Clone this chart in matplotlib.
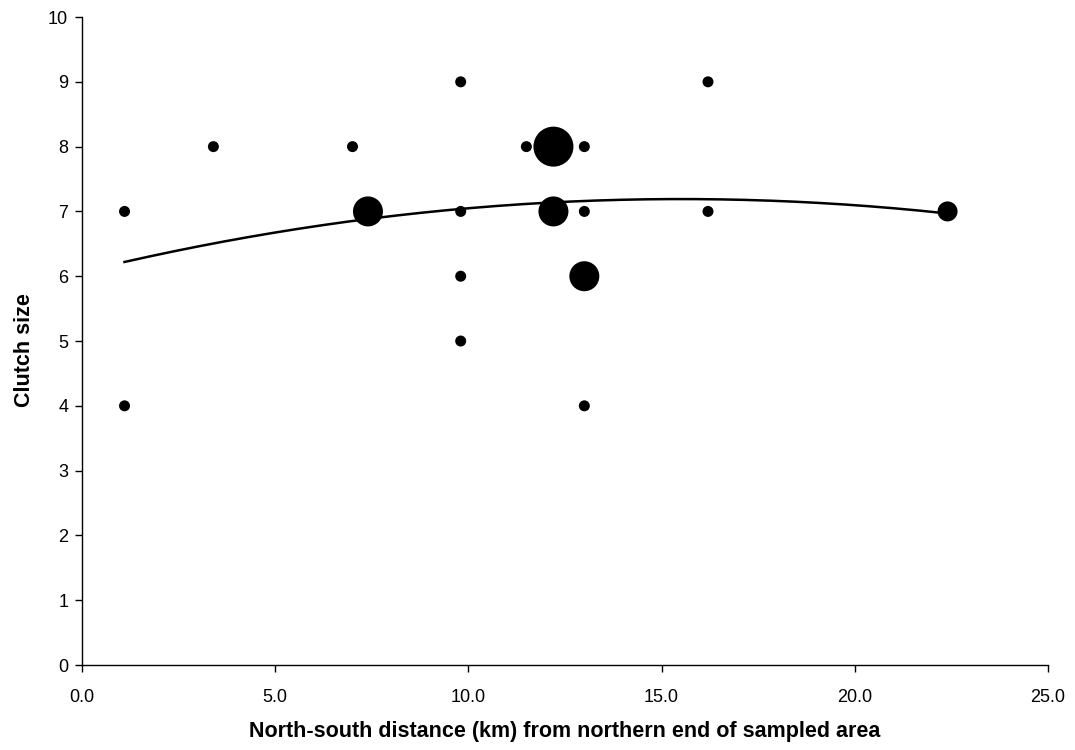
import numpy as np
import matplotlib
matplotlib.use("Agg")
import matplotlib.pyplot as plt

plt.rcParams['font.family'] = ['Liberation Sans', 'DejaVu Sans']

# distance (km) and clutch size for each nest group, with number of nests
distance = [1.1, 1.1, 3.4, 7.0, 7.4, 9.8, 9.8, 9.8, 9.8, 11.5, 12.2, 12.2,
            13.0, 13.0, 13.0, 13.0, 16.2, 16.2, 22.4]
clutch = [7, 4, 8, 8, 7, 9, 7, 6, 5, 8, 8, 7, 8, 7, 6, 4, 9, 7, 7]
n_nests = [1, 1, 1, 1, 3, 1, 1, 1, 1, 1, 4, 3, 1, 1, 3, 1, 1, 1, 2]

# polynomial trendline (order 2): y = c0 + c1*x + c2*x^2
trend_coef = [6.066, 0.1451, -0.00468]

x_ticks = [0, 5, 10, 15, 20, 25]
y_ticks = list(range(0, 11))

diam_px = {1: 11, 2: 20, 3: 30, 4: 40}
sizes = [(diam_px[n] * 0.72) ** 2 for n in n_nests]

fig = plt.figure(figsize=(10.75, 7.5), dpi=100)
ax = fig.add_axes([0.0763, 0.1133, 0.8986, 0.864])

xs = np.linspace(min(distance), max(distance), 200)
ys = trend_coef[0] + trend_coef[1] * xs + trend_coef[2] * xs ** 2
ax.plot(xs, ys, color='black', lw=1.8, zorder=2)

ax.scatter(distance, clutch, s=sizes, color='black', edgecolors='none', zorder=3)

ax.set_xlim(0, 25)
ax.set_ylim(0, 10)
ax.set_xticks(x_ticks)
ax.set_xticklabels([f"{v:.1f}" for v in x_ticks])
ax.set_yticks(y_ticks)
ax.spines['top'].set_visible(False)
ax.spines['right'].set_visible(False)
for s in ('left', 'bottom'):
    ax.spines[s].set_linewidth(1.0)
ax.tick_params(direction='out', length=5, width=1.0, labelsize=13, pad=5)
ax.tick_params(axis='x', pad=12)

ax.set_xlabel('North-south distance (km) from northern end of sampled area',
              fontsize=15.5, fontweight='bold', labelpad=11)
ax.set_ylabel('Clutch size', fontsize=15.5, fontweight='bold')
ax.yaxis.set_label_coords(-0.049, 0.486)

fig.savefig('out.png', dpi=100)
